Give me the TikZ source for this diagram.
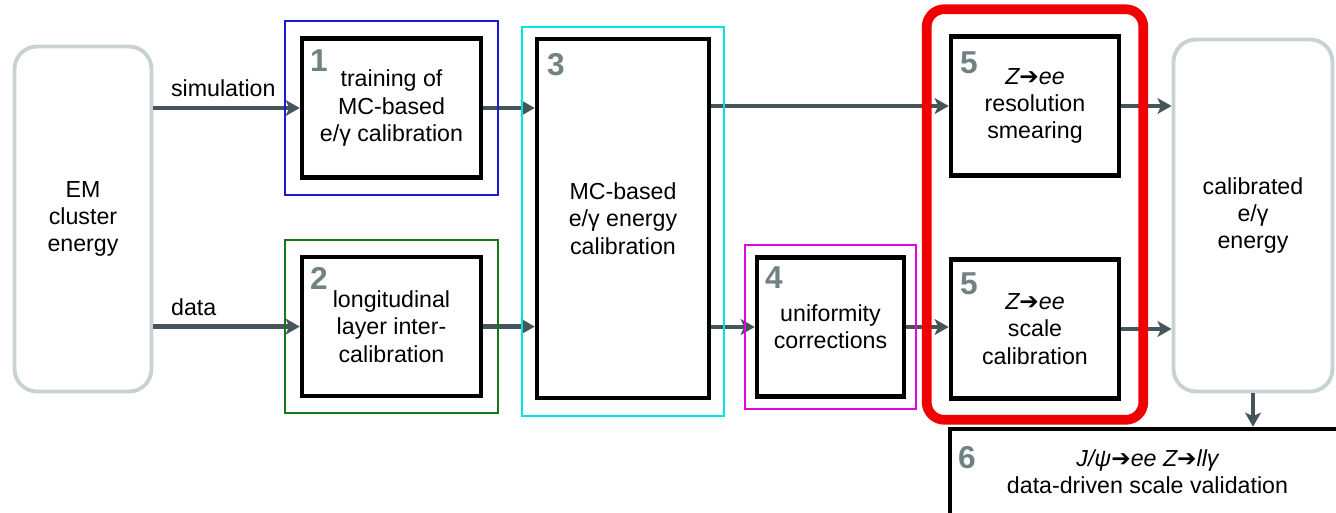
\documentclass[tikz,border=0pt]{standalone}
\usepackage{fontspec}
\setmainfont{Liberation Sans}
\newfontfamily\arrowfont{DejaVu Sans}
\usetikzlibrary{positioning, arrows.meta, fit, shadows}
\definecolor{arrowGray}{RGB}{68,86,90}
\definecolor{numGray}{RGB}{112,130,130}
\definecolor{roundGray}{RGB}{200,210,212}
\definecolor{frameBlue}{RGB}{25,25,215}
\definecolor{frameGreen}{RGB}{20,120,20}
\definecolor{frameCyan}{RGB}{0,228,232}
\definecolor{frameMagenta}{RGB}{230,0,230}
\definecolor{frameRed}{RGB}{240,0,0}
\newcommand{\zto}{{\arrowfont\char"2794}}
\tikzstyle{stepBox} = [shape=rectangle, draw=black, text=black, line width=2.6pt,
	align=center, fill=white, font=\fontsize{13.2}{15.5}\selectfont,
	drop shadow={shadow xshift=.6pt, shadow yshift=-.9pt, opacity=.3},
	minimum width=3.58cm, minimum height=2.78cm]
\tikzstyle{endBox} = [shape=rectangle, rounded corners=.45cm, draw=roundGray, line width=2.2pt,
	align=center, fill=white, font=\fontsize{13.2}{15.5}\selectfont,
	drop shadow={shadow xshift=.6pt, shadow yshift=-.9pt, opacity=.2}]
\tikzstyle{flowArrow} = [line width=2.8pt, -{Stealth[length=8pt, width=9pt, inset=2pt]}, draw=arrowGray]
\tikzstyle{stepNum} = [anchor=north west, inner sep=0pt, text=numGray,
	font=\fontsize{18}{18}\selectfont\bfseries]
\tikzstyle{frameBox} = [draw, line width=1.2pt, inner sep=.3cm]
\tikzstyle{flowLabel} = [anchor=south west, pos=.08, inner sep=2pt, yshift=3pt,
	font=\fontsize{13.2}{15.5}\selectfont]

\begin{document}
\begin{tikzpicture}
	\useasboundingbox (0,0) rectangle (26.72,-10.24);
	\node (em) at (1.66,-4.38) [endBox, minimum width=2.74cm, minimum height=6.9cm] {EM\\cluster\\energy};
	\node (cal) at (25.06,-4.31) [endBox, minimum width=3.18cm, minimum height=7.04cm] {calibrated\\e/γ\\energy};

	\node (train) at (7.83,-2.16) [stepBox] {training of\\MC-based\\e/γ calibration};
	\node (layer) [stepBox, below=1.5cm of train] {longitudinal\\layer inter-\\calibration};
	\node (mcCalib) at (12.46,-4.37) [stepBox, minimum width=3.44cm, minimum height=7.18cm] {MC-based\\e/γ energy\\calibration};
	\node (unif) at (16.61,-6.54) [stepBox, minimum width=2.94cm] {uniformity\\corrections};
	\node (smear) at (20.70,-2.12) [stepBox, minimum width=3.36cm] {{\itshape Z\zto ee}\\resolution\\smearing};
	\node (scaleCal) at (20.70,-6.58) [stepBox, minimum width=3.36cm] {{\itshape Z\zto ee}\\scale\\calibration};
	\node (valid) at (22.95,-9.44) [stepBox, minimum width=7.9cm, minimum height=1.72cm] {{\itshape J/ψ\zto ee Z\zto llγ}\\data-driven scale validation};

	\node (num1) at ([shift={(.2,-.26)}]train.north west) [stepNum] {1};
	\node (num2) at ([shift={(.2,-.24)}]layer.north west) [stepNum] {2};
	\node (num3) at ([shift={(.24,-.32)}]mcCalib.north west) [stepNum] {3};
	\node (num4) at ([shift={(.2,-.22)}]unif.north west) [stepNum] {4};
	\node (num5a) at ([shift={(.22,-.34)}]smear.north west) [stepNum] {5};
	\node (num5b) at ([shift={(.22,-.3)}]scaleCal.north west) [stepNum] {5};
	\node (num6) at ([shift={(.2,-.38)}]valid.north west) [stepNum] {6};

	\draw [flowArrow] (em.east |- train) -- node[flowLabel] {simulation} (train.west);
	\draw [flowArrow] (em.east |- layer) -- node[flowLabel] {data} (layer.west);
	\draw [flowArrow] (train.east) -- (mcCalib.west |- train.east);
	\draw [flowArrow] (layer.east) -- (mcCalib.west |- layer.east);
	\draw [flowArrow] (mcCalib.east |- smear) -- (smear.west);
	\draw [flowArrow] (mcCalib.east |- unif) -- (unif.west);
	\draw [flowArrow] (unif.east) -- (scaleCal.west |- unif.east);
	\draw [flowArrow] (smear.east) -- (cal.west |- smear.east);
	\draw [flowArrow] (scaleCal.east) -- (cal.west |- scaleCal.east);
	\draw [flowArrow] (cal.south) -- (cal.south |- valid.north);

	% coloured frames round the steps
	\node (frame1) [frameBox, draw=frameBlue, fit=(train)] {};
	\node (frame2) [frameBox, draw=frameGreen, fit=(layer)] {};
	\node (frame3) [frameBox, draw=frameCyan, fit=(mcCalib), inner sep=.25cm, yshift=-.06cm] {};
	\node (frame4) [frameBox, draw=frameMagenta, fit=(unif), inner sep=.2cm] {};
	\node (frame5) [draw=frameRed, line width=5.5pt, rounded corners=.35cm, fit=(smear)(scaleCal), inner sep=.44cm, yshift=.06cm] {};
\end{tikzpicture}
\end{document}
